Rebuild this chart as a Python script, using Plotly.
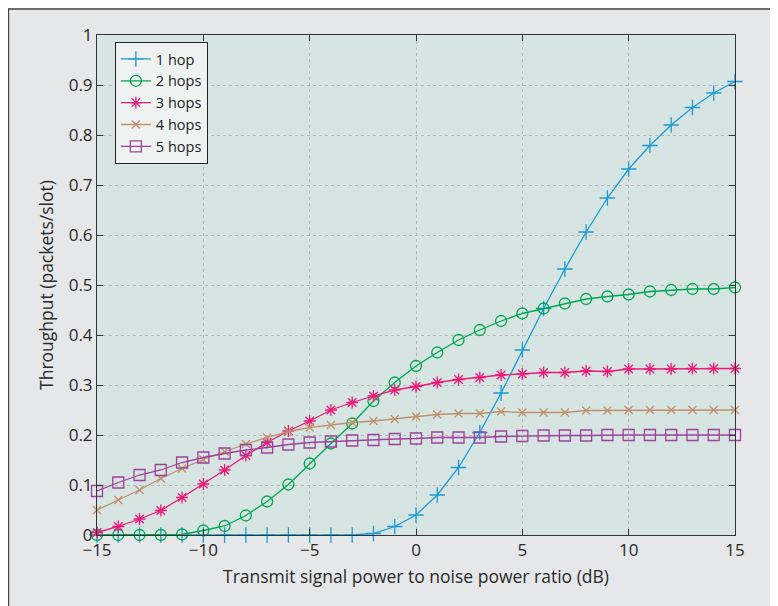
import plotly.graph_objects as go

snr_db = list(range(-15, 16))

hop1 = [0, 0, 0, 0, 0, 0, 0, 0, 0, 0, 0, 0, 0, 0.003, 0.017, 0.04, 0.08, 0.135,
        0.205, 0.284, 0.37, 0.453, 0.532, 0.606, 0.674, 0.732, 0.779, 0.82, 0.855, 0.884, 0.907]
hop2 = [0, 0, 0, 0, 0.001, 0.009, 0.018, 0.039, 0.067, 0.101, 0.143, 0.183, 0.223,
        0.268, 0.305, 0.338, 0.365, 0.39, 0.41, 0.428, 0.443, 0.453, 0.463, 0.472,
        0.477, 0.481, 0.487, 0.49, 0.492, 0.492, 0.495]
hop3 = [0.005, 0.017, 0.032, 0.049, 0.075, 0.102, 0.13, 0.159, 0.185, 0.208, 0.228,
        0.25, 0.265, 0.278, 0.29, 0.297, 0.305, 0.311, 0.315, 0.32, 0.322, 0.325,
        0.325, 0.328, 0.327, 0.332, 0.332, 0.332, 0.333, 0.333, 0.333]
hop4 = [0.05, 0.07, 0.09, 0.113, 0.133, 0.151, 0.167, 0.182, 0.195, 0.207, 0.215,
        0.22, 0.225, 0.228, 0.232, 0.237, 0.241, 0.243, 0.243, 0.247, 0.245, 0.245,
        0.245, 0.249, 0.249, 0.25, 0.25, 0.25, 0.25, 0.25, 0.25]
hop5 = [0.088, 0.105, 0.12, 0.13, 0.145, 0.155, 0.163, 0.17, 0.175, 0.181, 0.185,
        0.187, 0.189, 0.19, 0.192, 0.193, 0.195, 0.195, 0.195, 0.197, 0.198, 0.199,
        0.199, 0.199, 0.2, 0.2, 0.2, 0.2, 0.2, 0.2, 0.2]

series_names = ["1 hop", "2 hops", "3 hops", "4 hops", "5 hops"]
x_ticks = [-15, -10, -5, 0, 5, 10, 15]
y_ticks = [0, 0.1, 0.2, 0.3, 0.4, 0.5, 0.6, 0.7, 0.8, 0.9, 1]
y_ticklabels = ["0", "0.1", "0.2", "0.3", "0.4", "0.5", "0.6", "0.7", "0.8", "0.9", "1"]

styles = [
    ("#1d9ad6", "cross-thin-open", 11),
    ("#00a651", "circle-open", 11),
    ("#ec1a7a", "asterisk-open", 10),
    ("#c0906e", "x-thin-open", 8),
    ("#a0409c", "square-open", 11),
]

fig = go.Figure()
for name, ys, (col, sym, sz) in zip(series_names, [hop1, hop2, hop3, hop4, hop5], styles):
    fig.add_trace(go.Scatter(
        x=snr_db, y=ys, name=name, mode="lines+markers",
        line=dict(color=col, width=1.3),
        marker=dict(symbol=sym, size=sz, color=col, line=dict(color=col, width=1.3)),
        cliponaxis=False,
    ))

font_family = "Open Sans, Noto Sans, DejaVu Sans, sans-serif"

fig.update_layout(
    width=778, height=606,
    margin=dict(l=89, r=51, t=27, b=79),
    paper_bgcolor="#e6e7e8",
    plot_bgcolor="#d6e5e1",
    font=dict(family=font_family, size=17, color="#2a2a2a"),
    showlegend=True,
    legend=dict(
        x=0.028, y=0.986, xanchor="left", yanchor="top",
        bgcolor="#eef3f2", bordercolor="#222222", borderwidth=1,
        font=dict(size=14.5, color="#222222"),
        tracegroupgap=0, itemwidth=30,
    ),
    xaxis=dict(
        range=[-15, 15], tickvals=x_ticks,
        showline=True, linecolor="#333333", linewidth=1, mirror="ticks",
        ticks="inside", ticklen=6, tickcolor="#333333",
        showgrid=True, gridcolor="#b5b5b5", griddash="dot", gridwidth=1,
        zeroline=False,
        title=dict(text="Transmit signal power to noise power ratio (dB)", font=dict(size=17.5), standoff=10),
        tickfont=dict(size=17),
    ),
    yaxis=dict(
        range=[0, 1], tickvals=y_ticks, ticktext=y_ticklabels,
        showline=True, linecolor="#333333", linewidth=1, mirror="ticks",
        ticks="inside", ticklen=6, tickcolor="#333333",
        showgrid=True, gridcolor="#b5b5b5", griddash="dot", gridwidth=1,
        zeroline=False,
        title=dict(text="Throughput (packets/slot)", font=dict(size=17.5), standoff=10),
        tickfont=dict(size=17),
    ),
    shapes=[dict(
        type="rect", xref="paper", yref="paper",
        x0=-0.1388, x1=1.0782, y0=-0.156, y1=1.052,
        line=dict(color="#444444", width=1.5), fillcolor="rgba(0,0,0,0)", layer="above",
    )],
)

fig.write_html("out.html")
